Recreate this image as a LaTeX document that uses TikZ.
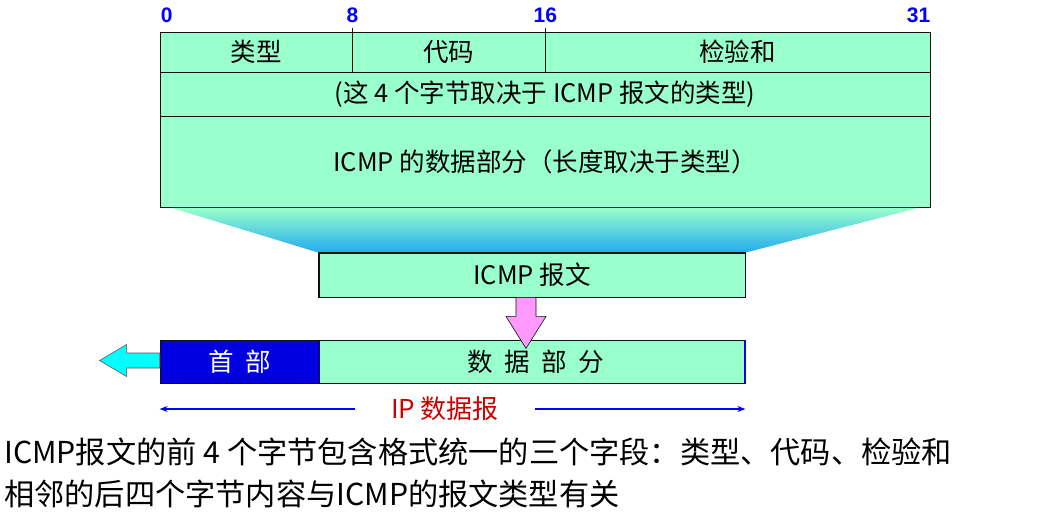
\documentclass[tikz,border=0pt]{standalone}
\usepackage{fontspec}
\setmainfont{Noto Sans CJK SC}
\newfontfamily\numfont{Liberation Sans}
\usetikzlibrary{arrows.meta,calc}
\definecolor{ink}{HTML}{111111}
\definecolor{cellfill}{HTML}{99FFCC}
\definecolor{hdrfill}{HTML}{0000E0}
\definecolor{bitblue}{HTML}{0000FF}
\definecolor{pinkfill}{HTML}{FF99FF}
\definecolor{cyanfill}{HTML}{00FFFF}
\definecolor{shadebot}{HTML}{22AAEE}
\definecolor{ipred}{HTML}{CC0000}
\tikzset{
  cell/.style={draw=ink, line width=0.8pt, fill=cellfill, inner sep=0pt, font=\fontsize{25.5}{30}\selectfont},
  bitno/.style={text=bitblue, inner sep=0pt, font=\numfont\bfseries\fontsize{21}{24}\selectfont},
  note/.style={anchor=west, inner sep=0pt, font=\fontsize{30.2}{36}\selectfont},
  arrow/.style={-{Stealth[length=8pt,width=6pt]}, line width=1.6pt, draw=bitblue}
}
\begin{document}
\begin{tikzpicture}[x=1pt, y=-1pt]
  \useasboundingbox (0,0) rectangle (1048,522);

  % header layout of the ICMP message
  \node[cell, minimum width=192pt, minimum height=40pt] (type) at (256,52) {类型};
  \node[cell, minimum width=193pt, minimum height=40pt] (code) at (448.5,52) {代码};
  \node[cell, minimum width=385pt, minimum height=40pt] (csum) at (737.5,52) {检验和};
  \node[cell, minimum width=770pt, minimum height=44pt] (rest) at (545,94) {(这 4 个字节取决于 ICMP 报文的类型)};
  \node[cell, minimum width=770pt, minimum height=91pt] (data) at (545,161.5) {ICMP 的数据部分（长度取决于类型）};

  \draw[ink, line width=0.8pt] (type.north east) -- ++(0,-4);
  \draw[ink, line width=0.8pt] (code.north east) -- ++(0,-4);

  \node[bitno, anchor=base west] (b0) at ($(type.north west)+(1,-9)$) {0};
  \node[bitno, anchor=base] (b8) at ($(type.north east)+(0,-9)$) {8};
  \node[bitno, anchor=base] (b16) at ($(code.north east)+(0,-9)$) {16};
  \node[bitno, anchor=base east] (b31) at ($(csum.north east)+(0,-9)$) {31};

  % the message, squeezed down
  \node[cell, minimum width=426pt, minimum height=44pt] (icmp) at (532,275) {ICMP 报文};
  \shade[top color=cellfill, bottom color=shadebot]
    ($(data.south west)+(12,0.5)$) -- (icmp.north west) -- (icmp.north east) -- ($(data.south east)+(-12,0.5)$) -- cycle;
  \draw[cell, fill=none] (icmp.north west) rectangle (icmp.south east);

  % IP datagram
  \node[cell, fill=hdrfill, text=white, minimum width=159pt, minimum height=43pt] (hdr) at (239.5,361.5) {首\ \ 部};
  \node[cell, minimum width=426pt, minimum height=43pt] (payload) at (532,361.5) {\hspace{8pt}数\ \ 据\ \ 部\ \ 分};
  \draw[bitblue, line width=2pt] (payload.north east) -- (payload.south east);

  \coordinate (pk) at ($(icmp.south)+(-6,0)$);
  \draw[ink, line width=0.6pt, fill=pinkfill]
    ($(pk)+(-10,0)$) -- ($(pk)+(-10,19)$) -- ($(pk)+(-20,19)$) -- ($(pk)+(0,51)$)
    -- ($(pk)+(20,19)$) -- ($(pk)+(10,19)$) -- ($(pk)+(10,0)$) -- cycle;

  \coordinate (cy) at ($(hdr.west)+(0,-1)$);
  \draw[ink!70, line width=0.6pt, fill=cyanfill]
    ($(cy)+(0,-7.5)$) -- ($(cy)+(-33,-7.5)$) -- ($(cy)+(-33,-16)$) -- ($(cy)+(-60,0)$)
    -- ($(cy)+(-33,16)$) -- ($(cy)+(-33,7.5)$) -- ($(cy)+(0,7.5)$) -- cycle;

  \node[text=ipred, inner xsep=36pt, inner ysep=0pt, font=\fontsize{26}{30}\selectfont] (iplbl) at (445,409) {IP 数据报};
  \draw[arrow] (iplbl.west) -- (iplbl.west -| hdr.west);
  \draw[arrow] (iplbl.east) -- (iplbl.east -| payload.east);

  % notes
  \node[note] (n1) at (4,452) {ICMP报文的前 4 个字节包含格式统一的三个字段：类型、代码、检验和};
  \node[note] (n2) at (4,494) {相邻的后四个字节内容与ICMP的报文类型有关};
\end{tikzpicture}
\end{document}
